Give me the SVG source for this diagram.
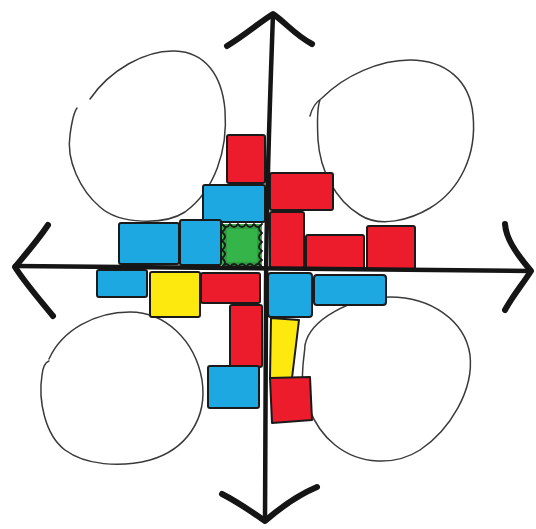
<svg xmlns="http://www.w3.org/2000/svg" width="536" height="529" viewBox="0 0 536 529">
<style>
.blob{fill:none;stroke:#3a3a3a;stroke-width:1.5;stroke-linecap:round}
.b{stroke:#1a1a1a;stroke-width:2;stroke-linejoin:round}
.red{fill:#ec1c2d}
.blue{fill:#1ea8e2}
.yel{fill:#fde90e}
.grn{fill:#35b44a}
.axis{fill:none;stroke:#151515;stroke-width:4.5;stroke-linecap:round;stroke-linejoin:round}
.arm{fill:none;stroke:#151515;stroke-width:6;stroke-linecap:round;stroke-linejoin:round}
</style>
<rect width="536" height="529" fill="#ffffff"/>
<g id="blobs">
<path id="blob-tl" class="blob" d="M 90,99 C 110,70 145,50 175,51 C 205,52 222,75 225,110 C 228,150 215,190 185,212 C 165,225 120,225 100,207 C 80,190 66,160 70,135 C 72,120 74,112 77,108"/>
<path id="blob-tr" class="blob" d="M 310,116 C 312,108 316,102 322,98 C 345,75 380,60 410,60 C 445,60 470,80 473,115 C 477,155 460,190 430,208 C 410,220 380,228 360,215 C 335,200 320,170 318,140 C 317,120 318,105 320,100"/>
<path id="blob-bl" class="blob" d="M 49,359 C 62,330 95,312 130,312 C 165,312 195,340 202,380 C 208,420 185,450 150,460 C 120,468 85,465 65,450 C 45,435 38,400 42,375 C 43,366 46,362 49,361"/>
<path id="blob-br" class="blob" d="M 305,345 C 310,320 350,297 390,297 C 430,297 465,320 470,355 C 474,390 450,430 420,450 C 395,466 360,465 335,445 C 310,425 300,390 303,365 C 304,355 305,348 305,345"/>
</g>
<g id="blocks">
<g id="r1"><rect class="b red" x="227" y="135" width="38" height="48" rx="2"/></g>
<g id="b1"><rect class="b blue" x="203" y="185" width="62" height="37" rx="2"/></g>
<g id="b2"><rect class="b blue" x="119" y="223" width="60" height="41" rx="2"/></g>
<g id="b3"><rect class="b blue" x="180" y="220" width="41" height="45" rx="2"/></g>
<g id="g1"><rect class="grn" x="222" y="224" width="40" height="43"/><path fill="#2e9e41" stroke="#1a1a1a" stroke-width="2" stroke-linejoin="round" d="M 222,224 Q 226,230 230,224 Q 234,230 238,224 Q 242,230 246,224 Q 250,230 254,224 Q 258,230 262,224 Q 256,228 262,233 Q 256,238 262,242 Q 256,247 262,251 Q 256,256 262,260 Q 256,263 262,267 Q 258,261 254,267 Q 250,261 246,267 Q 242,261 238,267 Q 234,261 230,267 Q 226,261 222,267 Q 228,263 222,258 Q 228,254 222,250 Q 228,245 222,241 Q 228,237 222,232 Q 228,228 222,224 Z"/><rect class="grn" x="227" y="229" width="30" height="33"/></g>
<g id="r2"><rect class="b red" x="270" y="173" width="63" height="37" rx="2"/></g>
<g id="r3"><rect class="b red" x="270" y="212" width="34" height="56" rx="2"/></g>
<g id="r4"><rect class="b red" x="306" y="235" width="58" height="35" rx="2"/></g>
<g id="r5"><rect class="b red" x="367" y="226" width="48" height="43" rx="2"/></g>
<g id="b4"><rect class="b blue" x="97" y="270" width="50" height="27" rx="2"/></g>
<g id="y1"><rect class="b yel" x="150" y="272" width="50" height="45" rx="2"/></g>
<g id="r6"><rect class="b red" x="201" y="273" width="59" height="30" rx="2"/></g>
<g id="r7"><rect class="b red" x="230" y="305" width="32" height="62" rx="2"/></g>
<g id="b5"><rect class="b blue" x="208" y="366" width="51" height="42" rx="2"/></g>
<g id="b6"><rect class="b blue" x="268" y="273" width="44" height="44" rx="3"/></g>
<g id="b7"><rect class="b blue" x="314" y="275" width="72" height="30" rx="3"/></g>
<g id="y2"><path class="b yel" d="M 271,318 L 299,320 L 292,378 L 270,378 Z"/></g>
<g id="r8"><path class="b red" d="M 270,378 L 310,377 L 312,420 L 272,423 Z"/></g>
</g>
<g id="connectors">
<path id="axis-v" class="axis" d="M 273,14 C 270,100 266,200 266,300 L 265,521"/>
<path id="axis-h" class="axis" d="M 15,266 C 150,266 300,270 531,271"/>
<path id="arrow-top" class="arm" d="M 227,46 C 245,35 260,22 273,14 C 285,22 295,35 312,44"/>
<path id="arrow-bottom" class="arm" d="M 222,494 C 238,502 252,512 265,521 C 280,508 298,495 317,487"/>
<path id="arrow-left" class="arm" d="M 48,225 C 38,240 25,255 15,267 C 25,283 40,300 53,316"/>
<path id="arrow-right" class="arm" d="M 505,224 C 506,238 515,252 531,271 C 522,285 512,297 505,310"/>
</g>
</svg>
